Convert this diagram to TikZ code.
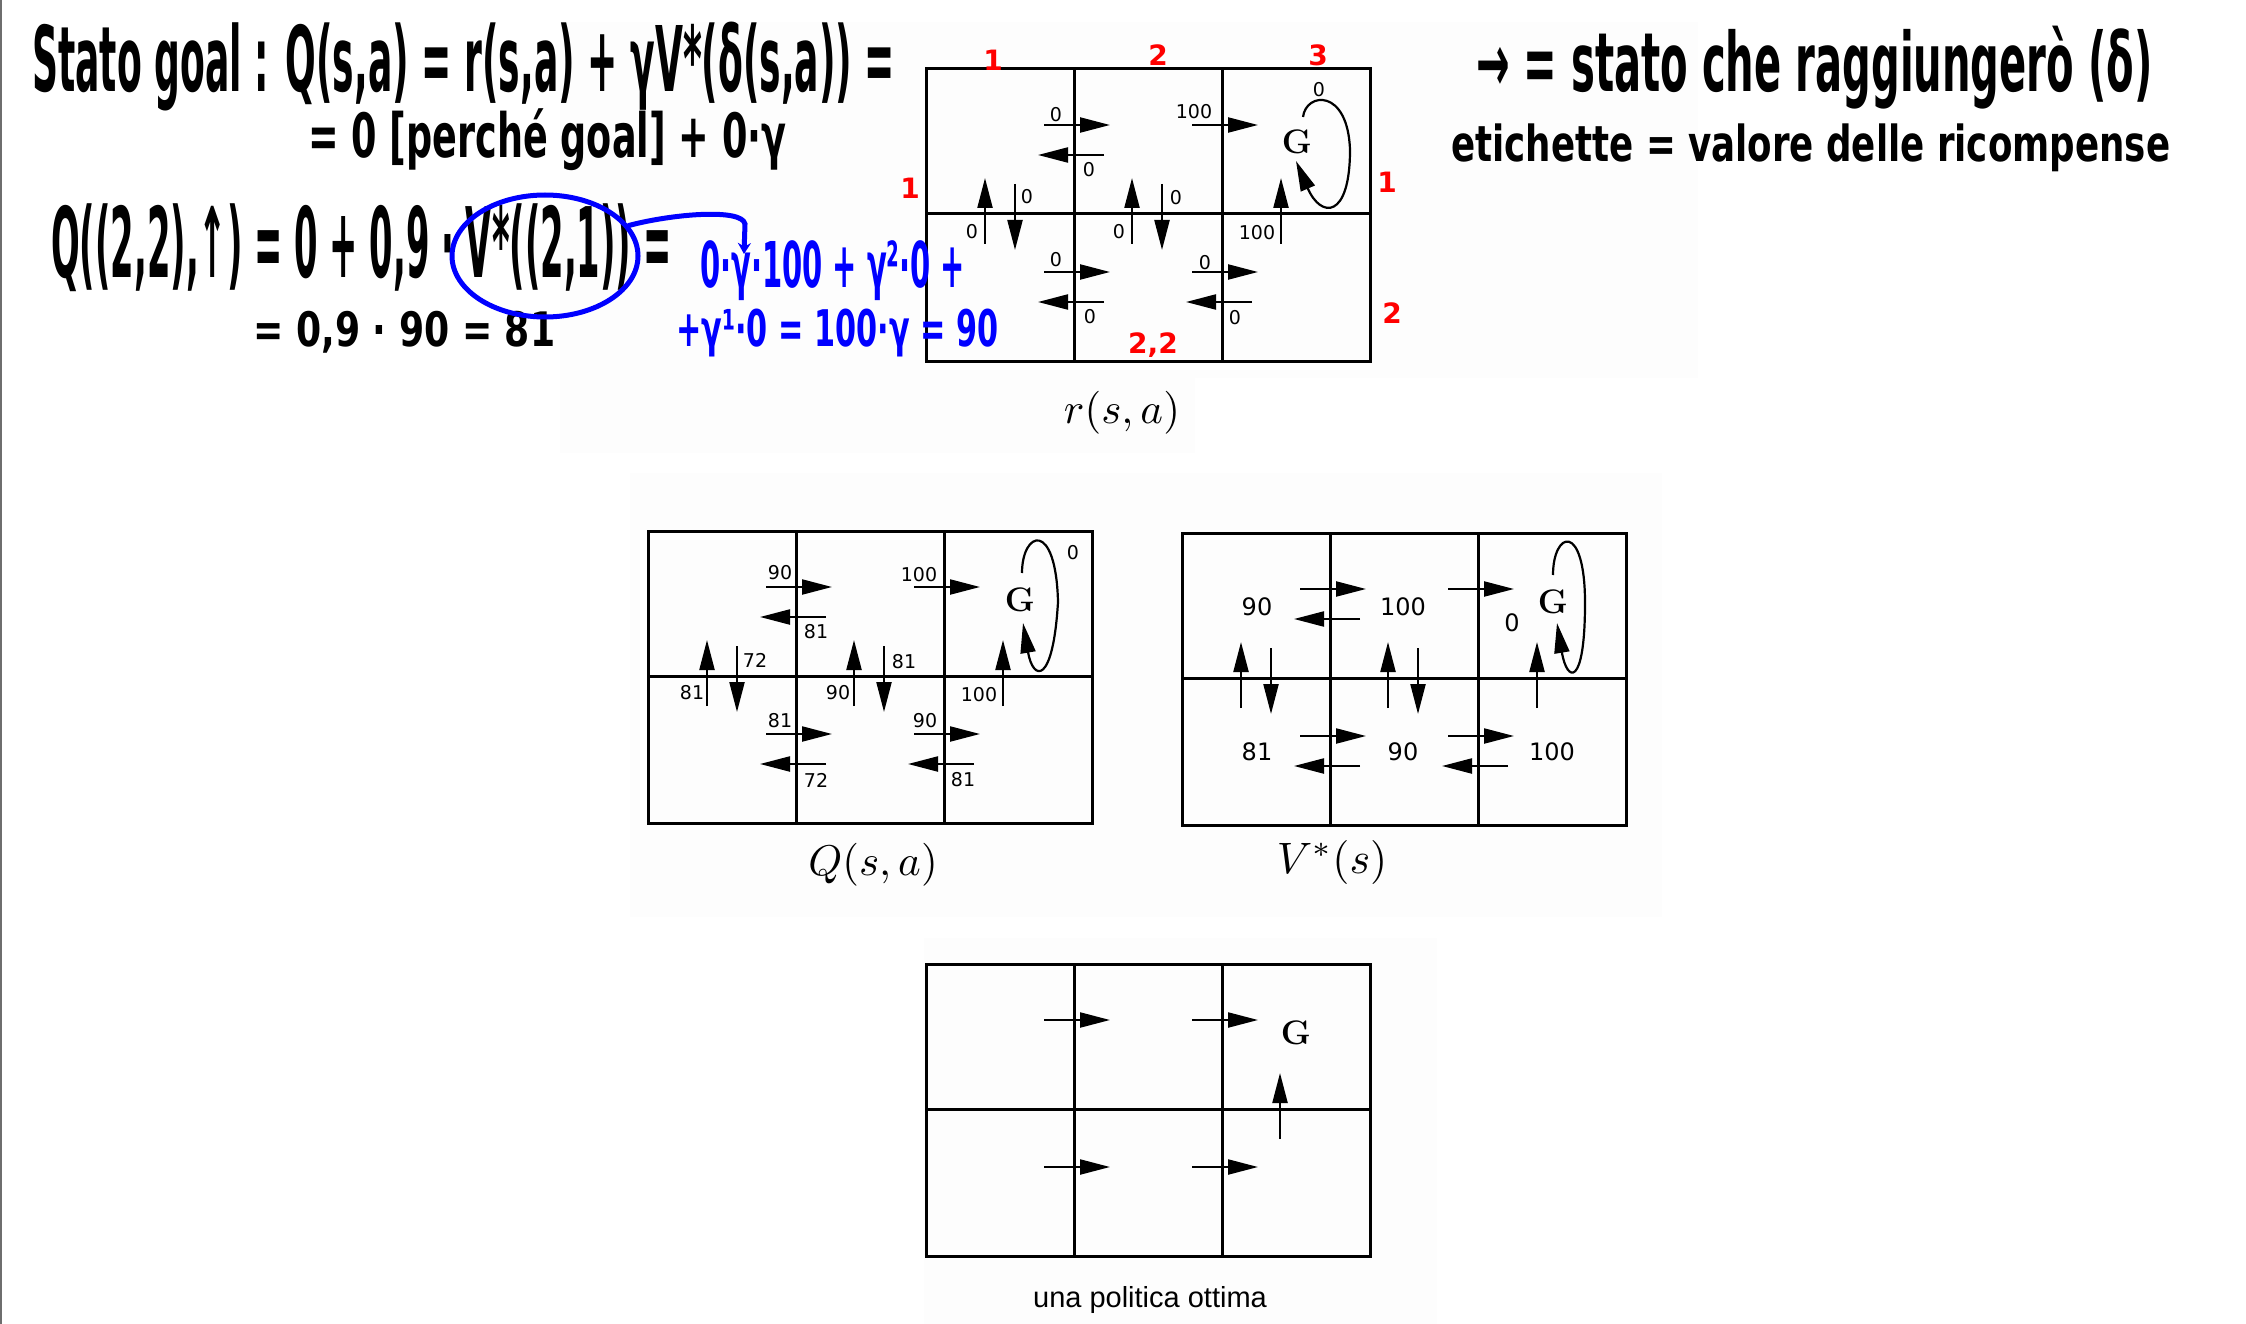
\documentclass[tikz,border=0pt]{standalone}
\usepackage{fontspec}
\usepackage{graphicx}
\usetikzlibrary{arrows.meta,shapes.geometric}
\newfontfamily\hand{DejaVu Sans}
\newfontfamily\labf{DejaVu Sans}
\newfontfamily\capf{Liberation Sans}
\newcommand\myFrame{%
  \draw[cellline] (0,0) rectangle (444,292);
  \draw[cellline] (148,0) -- (148,292) (296,0) -- (296,292) (0,145) -- (444,145);}
\newcommand\myR[2]{\draw[arr] ({#1-30},#2) -- ({#1+36},#2);}
\newcommand\myL[2]{\draw[arr] ({#1+30},#2) -- ({#1-36},#2);}
\newcommand\myU[1]{\draw[arr] (#1,175) -- (#1,109);}
\newcommand\myD[1]{\draw[arr] (#1,115) -- (#1,181);}
\newcommand\myArrows{%
  \myR{148}{56}\myL{148}{86}\myR{296}{56}%
  \myR{148}{203}\myL{148}{233}\myR{296}{203}\myL{296}{233}%
  \myU{59}\myD{89}\myU{206}\myD{236}\myU{355}}
\begin{document}
\begin{tikzpicture}[x=1pt,y=-1pt,
  cellline/.style={line width=3pt, line cap=rect},
  arr/.style={line width=2.2pt, -{Triangle[length=30pt,width=15pt]}},
  lab/.style={inner sep=0pt, font=\labf\fontsize{19}{19}\selectfont},
  vlab/.style={inner sep=0pt, font=\labf\fontsize{24}{24}\selectfont},
  goal/.style={inner sep=0pt, font=\fontsize{34}{34}\selectfont\bfseries},
  captn/.style={inner sep=0pt, anchor=base},
  hw/.style={inner sep=0pt, anchor=west},
  redl/.style={inner sep=0pt, text=red, font=\hand\bfseries\fontsize{28}{28}\selectfont},
  blueline/.style={draw=blue, line width=5pt, line cap=round},
]
\useasboundingbox (0,0) rectangle (2246,1324);
\fill[white] (0,0) rectangle (2246,1324);
% faint backgrounds of pasted pictures
\fill[black!0.8] (560,22) rectangle (1698,378);
\fill[black!0.8] (560,378) rectangle (1195,453);
\fill[black!0.8] (630,473) rectangle (1662,917);
\fill[black!0.8] (924,938) rectangle (1437,1324);
% left border
\draw[black!57, line width=2.5pt] (1,0) -- (1,1324);

% ---------- r(s,a) ----------
\begin{scope}[shift={(926,69)}]
\myFrame \myArrows
\draw[arr] (377,48) .. controls (380,23) and (422,19) .. (424,81) .. controls (424,150) and (395,150) .. (370,92);
\node[goal] (rG) at (371,73) {G};
\node[lab] (r0) at (393,21) {0};
\node[lab] (r1) at (130,46) {0};
\node[lab] (r2) at (163,101) {0};
\node[lab] (r3) at (268,43) {100};
\node[lab] (r4) at (46,163) {0};
\node[lab] (r5) at (101,128) {0};
\node[lab] (r6) at (193,163) {0};
\node[lab] (r7) at (250,129) {0};
\node[lab] (r8) at (331,164) {100};
\node[lab] (r9) at (130,191) {0};
\node[lab] (r10) at (164,248) {0};
\node[lab] (r11) at (279,194) {0};
\node[lab] (r12) at (309,249) {0};
\end{scope}
\node[captn] (rcap) at (1122,423) {\scalebox{4.3}{$r(s,a)$}};

% ---------- Q(s,a) ----------
\begin{scope}[shift={(648,531)}]
\myFrame \myArrows
\draw[arr] (374,42) .. controls (374,0) and (408,-12) .. (410,71) .. controls (405,155) and (385,150) .. (375,92);
\node[goal] (qG) at (372,69) {G};
\node[lab] (q0) at (425,22) {0};
\node[lab] (q1) at (132,42) {90};
\node[lab] (q2) at (168,101) {81};
\node[lab] (q3) at (271,44) {100};
\node[lab] (q4) at (44,162) {81};
\node[lab] (q5) at (107,129) {72};
\node[lab] (q6) at (190,162) {90};
\node[lab] (q7) at (256,131) {81};
\node[lab] (q8) at (331,164) {100};
\node[lab] (q9) at (132,190) {81};
\node[lab] (q10) at (168,249) {72};
\node[lab] (q11) at (277,190) {90};
\node[lab] (q12) at (315,249) {81};
\end{scope}
\node[captn] (qcap) at (873,875) {\scalebox{4.3}{$Q(s,a)$}};

% ---------- V*(s) ----------
\begin{scope}[shift={(1182,533)}]
\myFrame \myArrows
\draw[arr] (371,42) .. controls (371,-2) and (403,-12) .. (403,70) .. controls (403,155) and (385,150) .. (375,90);
\node[goal] (vG) at (371,69) {G};
\node[vlab] (v1) at (75,74) {90};
\node[vlab] (v2) at (221,74) {100};
\node[vlab] (v3) at (330,90) {0};
\node[vlab] (v4) at (75,219) {81};
\node[vlab] (v5) at (221,219) {90};
\node[vlab] (v6) at (370,219) {100};
\end{scope}
\node[captn] (vcap) at (1332,873) {\scalebox{4.4}{$V^*(s)$}};

% ---------- policy ----------
\begin{scope}[shift={(926,964)}]
\myFrame
\myR{148}{56}\myR{296}{56}\myR{148}{203}\myR{296}{203}\myU{354}
\node[goal] (pG) at (370,69) {G};
\end{scope}
\node[inner sep=0pt, anchor=base, font=\capf\fontsize{29}{32}\selectfont] (pcap) at (1150,1307) {una politica ottima};

% ---------- handwriting (black) ----------
\node[hw] (h1) at (32,67) {\resizebox*{863pt}{89pt}{\hand\bfseries Stato goal : Q(s,a) = r(s,a) + γV*(δ(s,a)) =}};
\node[hw] (h2) at (308,140) {\resizebox*{478pt}{62pt}{\hand\bfseries = 0 [perché goal] + 0·γ}};
\node[hw] (h3) at (51,248) {\resizebox*{620pt}{88pt}{\hand\bfseries Q((2,2),↑) = 0 + 0,9 · V*((2,1)) =}};
\node[hw] (h4) at (253,332) {\resizebox*{302pt}{42pt}{\hand\bfseries = 0,9 · 90 = 81}};
\node[hw] (h5) at (1476,68) {\resizebox*{676pt}{83pt}{\hand\bfseries → = stato che raggiungerò (δ)}};
\node[hw] (h6) at (1451,148) {\resizebox*{719pt}{48pt}{\hand\bfseries etichette = valore delle ricompense}};

% ---------- handwriting (blue) ----------
\node[ellipse, blueline, minimum width=186pt, minimum height=122pt, inner sep=0pt] (circ) at (545,256) {};
\coordinate (btip) at (744,254);
\draw[blueline, -{Stealth[length=11pt,width=13pt]}] (circ.20) .. controls (672,214) and (742,208) .. (745,224) -- (btip);
\node[hw, text=blue] (b1) at (700,271) {\resizebox*{265pt}{60pt}{\hand\bfseries 0·γ·100 + γ²·0 +}};
\node[hw, text=blue] (b2) at (676,333) {\resizebox*{322pt}{48pt}{\hand\bfseries +γ¹·0 = 100·γ = 90}};

% ---------- red labels ----------
\node[redl] (c1) at (993,60) {1};
\node[redl] (c2) at (1158,55) {2};
\node[redl] (c3) at (1318,55) {3};
\node[redl] (w1) at (910,188) {1};
\node[redl] (e1) at (1387,182) {1};
\node[redl] (e2) at (1392,313) {2};
\node[redl] (s22) at (1153,345) {2,2};
\end{tikzpicture}
\end{document}
